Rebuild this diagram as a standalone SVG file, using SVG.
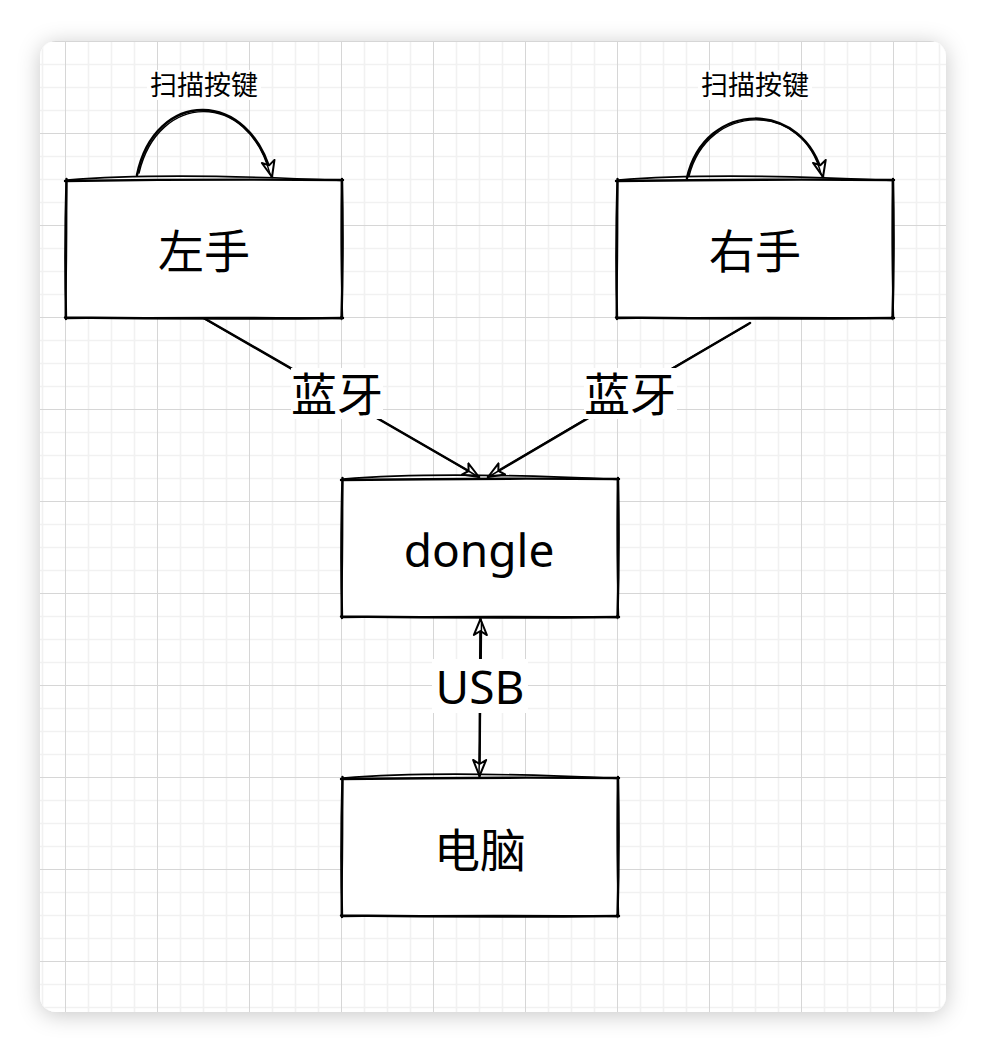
<svg xmlns="http://www.w3.org/2000/svg" xmlns:xlink="http://www.w3.org/1999/xlink" width="986" height="1052" viewBox="0 0 986 1052">
  <defs>
    <filter id="shadow" x="-10%" y="-10%" width="120%" height="120%">
      <feDropShadow dx="0" dy="3" stdDeviation="11" flood-color="#000" flood-opacity="0.22"/>
    </filter>
    <pattern id="grid" patternUnits="userSpaceOnUse" x="65" y="41" width="92" height="92">
      <path d="M23.5 0V92M46.5 0V92M69.5 0V92M0 23.5H92M0 46.5H92M0 69.5H92" stroke="#f1f1f1" stroke-width="1.6" fill="none"/>
      <path d="M0.5 0V92M0 0.5H92" stroke="#d6d6d6" stroke-width="1" fill="none"/>
    </pattern>
    <clipPath id="cardClip"><rect x="40" y="41" width="906" height="971" rx="16"/></clipPath>
    <marker id="arrow" viewBox="0 0 18 16" refX="17" refY="8" markerWidth="18" markerHeight="16" markerUnits="userSpaceOnUse" orient="auto-start-reverse">
      <path d="M17,8 L1,1.5 L5,8 L1,14.5 Z" fill="#fff" stroke="#000" stroke-width="2" stroke-linejoin="round"/>
    </marker>
    <g id="roughRect">
      <path d="M0,0 H276 V138 H0 Z" fill="#fff" stroke="none"/>
      <path d="M-1,1 Q138,-1 277,0 M276,-1 Q277.5,69 275.5,139 M277,138 Q138,139.5 -1,137.5 M0,139 Q-1.5,69 0.5,-1" fill="none" stroke="#000" stroke-width="2.4" stroke-linecap="round"/>
      <path d="M1,0 Q97,-8 276,0.5 M275.5,1 Q274.5,79 276.5,138 M276,138.5 Q166,136.5 0.5,138.5 M-0.5,138 Q1,59 0.5,0.5" fill="none" stroke="#000" stroke-width="1.6" stroke-linecap="round"/>
    </g>
  </defs>
  <style>
    .node { font-family: "Noto Sans", "Noto Sans CJK SC", sans-serif; font-size: 46px; fill: #000; text-anchor: middle; }
    .lbl { font-family: "Noto Sans", "Noto Sans CJK SC", sans-serif; font-size: 46px; fill: #000; text-anchor: middle; }
    .small { font-family: "Noto Sans CJK SC", sans-serif; font-size: 27px; fill: #000; text-anchor: middle; }
    .edge { fill: none; stroke: #000; stroke-width: 2.5; stroke-linecap: round; }
    .edge2 { fill: none; stroke: #000; stroke-width: 1.5; stroke-linecap: round; }
    .bg { fill: #fff; }
  </style>

  <!-- card with grid -->
  <rect x="40" y="41" width="906" height="971" rx="16" fill="#fff" filter="url(#shadow)"/>
  <rect x="40" y="41" width="906" height="971" fill="url(#grid)" clip-path="url(#cardClip)"/>

  <!-- connectors -->
  <g id="connectors">
    <path class="edge" d="M202,317 L479,477" marker-end="url(#arrow)"/>
    <path class="edge2" d="M204,318.5 Q340,396 477,476"/>
    <path class="edge" d="M750,323 L488,477" marker-end="url(#arrow)"/>
    <path class="edge2" d="M748,324.5 Q620,398 490,476"/>
    <path class="edge" d="M480.5,619 L479.5,776" marker-start="url(#arrow)" marker-end="url(#arrow)"/>
    <path class="edge2" d="M481.5,622 Q481,700 479,773"/>
    <path class="edge" d="M137,175 C155,88 250,88 272,177" marker-end="url(#arrow)"/>
    <path class="edge2" d="M139,173 C158,92 248,90 270,174"/>
    <path class="edge" d="M687,178 C705,99 805,99 823,177" marker-end="url(#arrow)"/>
    <path class="edge2" d="M689,176 C708,102 803,101 821,174"/>
  </g>

  <!-- edge labels -->
  <g id="label-scan-left">
    <rect class="bg" x="147" y="70" width="114" height="30"/>
    <text class="small" x="204" y="95">扫描按键</text>
  </g>
  <g id="label-scan-right">
    <rect class="bg" x="698" y="70" width="114" height="30"/>
    <text class="small" x="755" y="95">扫描按键</text>
  </g>
  <g id="label-bt-left">
    <rect class="bg" x="291" y="368" width="92" height="51"/>
    <text class="lbl" x="337" y="411">蓝牙</text>
  </g>
  <g id="label-bt-right">
    <rect class="bg" x="584" y="368" width="93" height="51"/>
    <text class="lbl" x="630" y="411">蓝牙</text>
  </g>
  <g id="label-usb">
    <rect class="bg" x="432" y="659" width="96" height="54"/>
    <text class="lbl" x="480" y="704">USB</text>
  </g>

  <!-- nodes -->
  <g id="node-left">
    <use xlink:href="#roughRect" href="#roughRect" transform="translate(66,180)"/>
    <text class="node" x="204" y="268">左手</text>
  </g>
  <g id="node-right">
    <use xlink:href="#roughRect" href="#roughRect" transform="translate(617,180)"/>
    <text class="node" x="755" y="268">右手</text>
  </g>
  <g id="node-dongle">
    <use xlink:href="#roughRect" href="#roughRect" transform="translate(342,479)"/>
    <text class="node" x="479" y="567">dongle</text>
  </g>
  <g id="node-pc">
    <use xlink:href="#roughRect" href="#roughRect" transform="translate(342,778)"/>
    <text class="node" x="480" y="867">电脑</text>
  </g>
</svg>
